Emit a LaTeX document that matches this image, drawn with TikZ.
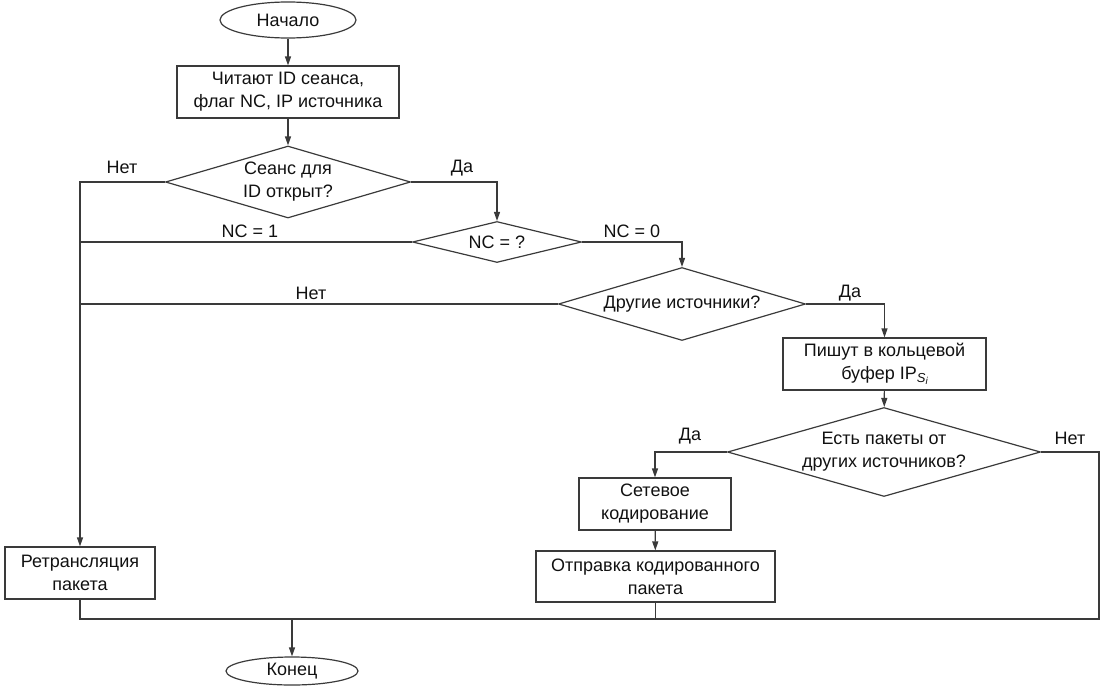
\documentclass[tikz,border=0pt]{standalone}
\usepackage{fontspec}
\setmainfont{Liberation Sans}
\usetikzlibrary{shapes.geometric,arrows.meta}
\definecolor{ln}{HTML}{3A3A3A}
\definecolor{tx}{HTML}{111111}
\begin{document}
\begin{tikzpicture}[x=1pt,y=-1pt,
  every node/.style={text=tx,font=\fontsize{18}{23}\selectfont},
  term/.style={ellipse,draw=ln,line width=1.2pt,inner sep=0pt},
  proc/.style={rectangle,draw=ln,line width=1.2pt,inner sep=0pt,align=center},
  dec/.style={diamond,draw=ln,line width=1.2pt,inner xsep=-30pt,inner ysep=-12pt,aspect=3.4,align=center},
  decs/.style={diamond,draw=ln,line width=1.2pt,inner sep=0pt,aspect=4,align=center},
  conn/.style={draw=ln,line width=1.2pt},
  arr/.style={conn,-{Triangle[length=9pt,width=6pt]}},
  lbl/.style={inner sep=0pt}]
\useasboundingbox (0,0) rectangle (1102,688);

\node[term,minimum width=136pt,minimum height=36pt] (start) at (288,20) {Начало};
\node[proc,minimum width=222pt,minimum height=52pt] (read) at (288,92) {Читают ID сеанса,\\флаг NC, IP источника};
\node[dec,minimum width=245pt,minimum height=72pt] (d1) at (288,182) {Сеанс для\\ID открыт?};
\node[decs,minimum width=169pt,minimum height=41pt] (nc) at (497,242) {NC = ?};
\node[dec,minimum width=247pt,minimum height=73pt] (d3) at (682,304) {Другие источники?};
\node[proc,minimum width=203pt,minimum height=52pt] (write) at (884.5,364) {Пишут в кольцевой\\буфер IP\raisebox{-0.3ex}{\fontsize{13}{13}\selectfont\itshape S\raisebox{-0.35ex}{\fontsize{10}{10}\selectfont i}}};
\node[dec,minimum width=313pt,minimum height=89pt] (d4) at (884,452) {Есть пакеты от\\других источников?};
\node[proc,minimum width=152pt,minimum height=52pt] (code) at (655,504) {Сетевое\\кодирование};
\node[proc,minimum width=239pt,minimum height=51pt] (send) at (655.5,576.5) {Отправка кодированного\\пакета};
\node[proc,minimum width=150pt,minimum height=52pt] (retr) at (80,573) {Ретрансляция\\пакета};
\node[term,minimum width=132pt,minimum height=28pt] (end) at (292,671) {Конец};
\coordinate (bot) at (292,619);
\coordinate (rb) at (1099,619);

\draw[arr] (start) -- (read);
\draw[arr] (read) -- (d1);
\draw[arr] (d1.west) -| (retr.north);
\draw[arr] (d1.east) -| (nc.north);
\draw[conn] (nc.west) -- (nc.west -| retr.north);
\draw[arr] (nc.east) -| (d3.north);
\draw[conn] (d3.west) -- (d3.west -| retr.north);
\draw[arr] (d3.east) -| (write.north);
\draw[arr] (write) -- (d4);
\draw[arr] (d4.west) -| (code.north);
\draw[arr] (code) -- (send);
\draw[conn] (retr.south) |- (bot);
\draw[conn] (d4.east) -| (rb) -- (bot);
\draw[conn] (send.south) -- (send.south |- bot);
\draw[arr] (bot) -- (end);

\node[lbl] (l1) at (122,167) {Нет};
\node[lbl] (l2) at (462,168) {Да};
\node[lbl] (l3) at (250,231) {NC = 1};
\node[lbl] (l4) at (632,231) {NC = 0};
\node[lbl] (l5) at (311,293) {Нет};
\node[lbl] (l6) at (850,293) {Да};
\node[lbl] (l7) at (690,436) {Да};
\node[lbl] (l8) at (1070,438) {Нет};
\end{tikzpicture}
\end{document}
